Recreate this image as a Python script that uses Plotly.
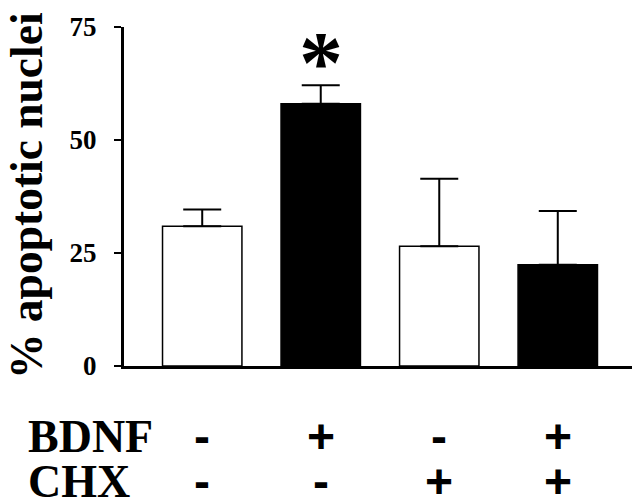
import plotly.graph_objects as go

# values
groups = ["ctrl", "BDNF", "CHX", "BDNF+CHX"]
pct_apoptotic = [30.9, 58.0, 26.5, 22.4]
sem = [3.7, 4.1, 14.9, 11.9]
bar_colors = ["white", "black", "white", "black"]
bdnf = ["-", "+", "-", "+"]
chx = ["-", "-", "+", "+"]
y_ticks = [0, 25, 50, 75]

serif = "Liberation Serif, Times New Roman, serif"
sans = "Liberation Sans, Arial, sans-serif"

# page body has an 8px margin, so the figure is 8px smaller and margins shifted
PAD = 8
L, T, PW, PH = 124 - PAD, 23 - PAD, 512, 343


def px_x(x):
    return (x - PAD - L) / PW


def px_y(y):
    return (T + PH - (y - PAD)) / PH


fig = go.Figure()
fig.add_trace(go.Bar(
    x=list(range(len(groups))),
    y=pct_apoptotic,
    marker=dict(color=bar_colors, line=dict(color="black", width=1.5)),
    error_y=dict(type="data", array=sem, arrayminus=[0] * len(sem), symmetric=False,
                 color="black", thickness=2, width=19),
    width=0.67,
))

# significance star over BDNF
fig.add_annotation(x=1, yref="paper", y=px_y(52), yshift=-7, text="*",
                   showarrow=False, yanchor="middle",
                   font=dict(family=serif, size=88, color="black", weight="bold"))

# y title
fig.add_annotation(xref="paper", yref="paper", x=px_x(26), y=px_y(194),
                   text="% apoptotic nuclei", textangle=-90, showarrow=False,
                   xanchor="center", yanchor="middle",
                   font=dict(family=serif, size=45.5, color="black", weight="bold"))

# treatment rows
for label, signs, ypix in [("BDNF", bdnf, 437), ("CHX", chx, 483)]:
    fig.add_annotation(xref="paper", yref="paper", x=px_x(26), y=px_y(ypix),
                       text=label, showarrow=False, xanchor="left",
                       yanchor="middle",
                       font=dict(family=serif, size=46, color="black", weight="bold"))
    for i, s in enumerate(signs):
        fig.add_annotation(x=i, yref="paper", y=px_y(ypix), text=s,
                           showarrow=False, xanchor="center", yanchor="middle",
                           font=dict(family=sans, size=48, color="black", weight="bold"))

fig.update_layout(
    width=640 - PAD, height=504 - PAD,
    margin=dict(l=L, r=4, t=T, b=504 - PAD - T - PH),
    paper_bgcolor="white", plot_bgcolor="white",
    showlegend=False,
)
fig.update_xaxes(range=[-0.66, 3.66], showticklabels=False, ticks="",
                 showgrid=False, zeroline=False,
                 showline=True, linecolor="black", linewidth=3)
fig.update_yaxes(range=[0, 75], tickvals=y_ticks, ticks="outside", ticklen=7,
                 tickwidth=2, tickcolor="black", ticklabelstandoff=12,
                 tickfont=dict(family=serif, size=27, color="black", weight="bold"),
                 showgrid=False, zeroline=False,
                 showline=True, linecolor="black", linewidth=3)

fig.write_html("out.html")
